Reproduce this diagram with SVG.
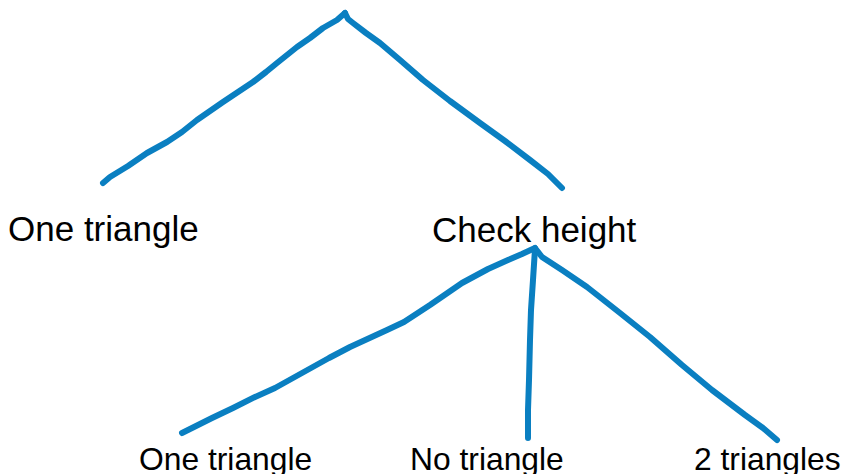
<svg xmlns="http://www.w3.org/2000/svg" width="846" height="474" viewBox="0 0 846 474">
<style>
.lbl{font-family:"Liberation Sans",Arial,sans-serif;fill:#000;}
.big{font-size:35px;}
.sm{font-size:31.8px;}
.ink{fill:none;stroke:#0A7FC1;stroke-width:6;stroke-linecap:round;stroke-linejoin:round;}
</style>
<rect width="846" height="474" fill="#fff"/>
<g id="connectors">
<polyline class="ink" points="103,183 110,177 128,166 147,153 167,142 182,132 197,120 223,102 253,82 266,72 277,63 297,47 310,38 323,28 337,20 345,13"/>
<polyline class="ink" points="345,13 348,19 353,23 366,33 380,43 400,60 423,80 450,101 480,123 505,141 530,160 548,174 562,188"/>
<polyline class="ink" points="182,433 192,428 212,418 233,408 255,397 275,388 302,373 329,358 350,347 387,330 404,322 430,305 462,283 488,269 508,260 522,254 535,248"/>
<polyline class="ink" points="535,249 533,280 531,310 530,340 529,380 528,410 528,438"/>
<polyline class="ink" points="535,248 542,257 562,270 587,287 620,313 650,337 682,365 712,390 745,415 763,428 777,440"/>
</g>
<g id="node-one-triangle-top"><text class="lbl big" x="8" y="241">One triangle</text></g>
<g id="node-check-height"><text class="lbl big" x="432" y="242">Check height</text></g>
<g id="node-one-triangle"><text class="lbl sm" x="139" y="470">One triangle</text></g>
<g id="node-no-triangle"><text class="lbl sm" x="410" y="470">No triangle</text></g>
<g id="node-two-triangles"><text class="lbl sm" x="694" y="470">2 triangles</text></g>
</svg>
